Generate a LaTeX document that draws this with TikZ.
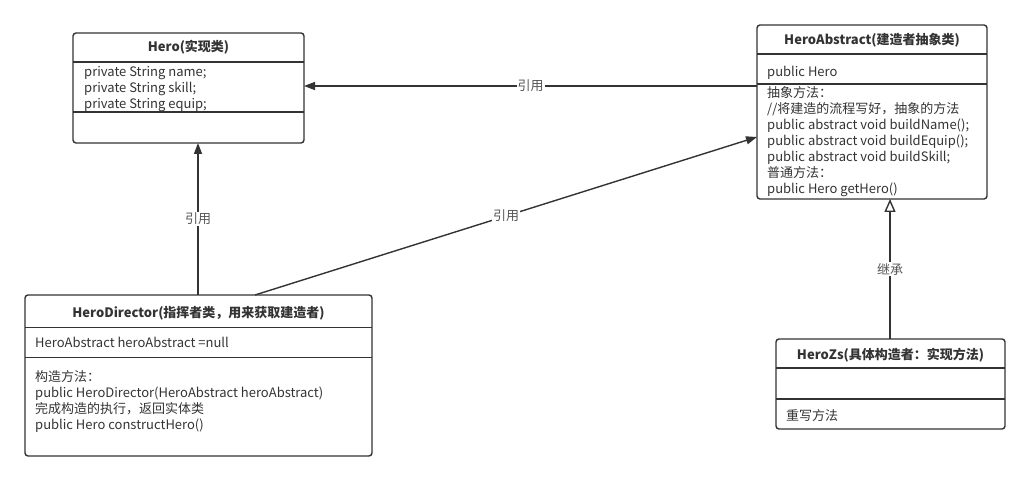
\documentclass[tikz,border=0pt]{standalone}
\usepackage{fontspec}
\setmainfont{Noto Sans CJK SC}
\usetikzlibrary{arrows.meta}
\definecolor{linec}{HTML}{333333}
\definecolor{txtc}{HTML}{333333}
\definecolor{lblc}{HTML}{555555}
\tikzset{
  cls/.style={draw=linec, line width=1.4pt, rounded corners=3pt, anchor=north west, inner sep=0pt, outer sep=0pt},
  sep/.style={draw=linec, line width=1.4pt},
  ttl/.style={font=\fontsize{13}{16}\selectfont\bfseries, text=txtc, inner sep=0pt},
  ln/.style={font=\fontsize{13}{16}\selectfont, text=txtc, anchor=base west, inner sep=0pt},
  ref/.style={draw=linec, line width=1.4pt, -{Triangle[length=11pt,width=8pt]}},
  inh/.style={draw=linec, line width=1.4pt, -{Triangle[open,length=13pt,width=11pt,fill=white]}},
  lbl/.style={font=\fontsize{13}{14}\selectfont, text=lblc, fill=white, inner sep=1pt, midway}
}
\begin{document}
\begin{tikzpicture}[x=1pt,y=-1pt]
\useasboundingbox (0,0) rectangle (1031,481);
% Hero
\node[cls, minimum width=231pt, minimum height=110pt] (hero) at (73,33) {};
\draw[sep] (73,62) -- (304,62);
\draw[sep] (73,112) -- (304,112);
\node[ttl] (hero-t) at (188.5,47.5) {Hero(实现类)};
\foreach \l [count=\i] in {private String name;,private String skill;,private String equip;}
  \node[ln] (hero-a\i) at (84,{72+4.8+16*(\i-1)}) {\l};
% HeroAbstract
\node[cls, minimum width=230pt, minimum height=174pt] (habs) at (757,25) {};
\draw[sep] (757,54) -- (987,54);
\draw[sep] (757,84) -- (987,84);
\node[ttl] (habs-t) at (872,40) {HeroAbstract(建造者抽象类)};
\node[ln] (habs-a1) at (767,76.5) {public Hero};
\foreach \l [count=\i] in {抽象方法：,//将建造的流程写好，抽象的方法,public abstract void buildName();,public abstract void buildEquip();,public abstract void buildSkill;,普通方法：,public Hero getHero()}
  \node[ln] (habs-m\i) at (767,{92.7+4.8+16*(\i-1)}) {\l};
% HeroDirector
\node[cls, minimum width=347pt, minimum height=161pt] (hdir) at (25,295) {};
\draw[sep] (25,327.5) -- (372,327.5);
\draw[sep] (25,357.5) -- (372,357.5);
\node[ttl] (hdir-t) at (198.5,313.5) {HeroDirector(指挥者类，用来获取建造者)};
\node[ln] (hdir-a1) at (35,347.8) {HeroAbstract heroAbstract =null};
\foreach \l [count=\i] in {构造方法：,public HeroDirector(HeroAbstract heroAbstract),完成构造的执行，返回实体类,public Hero constructHero()}
  \node[ln] (hdir-m\i) at (35,{377+4.8+16*(\i-1)}) {\l};
% HeroZs
\node[cls, minimum width=229pt, minimum height=90pt] (hzs) at (776,339) {};
\draw[sep] (776,368) -- (1005,368);
\draw[sep] (776,399) -- (1005,399);
\node[ttl] (hzs-t) at (890.5,355) {HeroZs(具体构造者：实现方法)};
\node[ln] (hzs-m1) at (786,420.5) {重写方法};
% connectors
\draw[ref] (habs.north west |- 0,86) -- node[lbl] (l1) {引用} (hero.north east |- 0,86);
\draw[ref] (hdir.north -| 198,0) -- node[lbl] (l2) {引用} (hero.south -| 198,0);
\draw[ref] (hdir.north -| 255,0) -- node[lbl] (l3) {引用} (habs.north west |- 0,137);
\draw[inh] (hzs.north -| 890,0) -- node[lbl] (l4) {继承} (habs.south -| 890,0);
\end{tikzpicture}
\end{document}
